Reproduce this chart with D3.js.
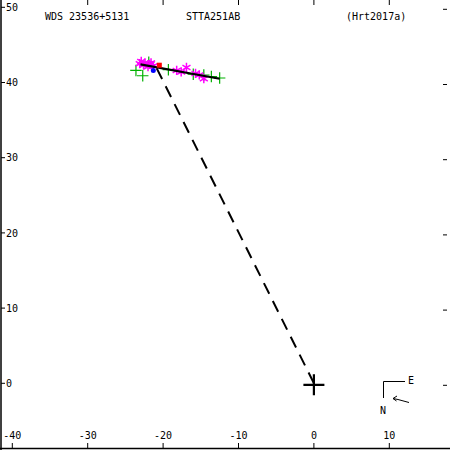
<!DOCTYPE html>
<html>
<head>
<meta charset="utf-8">
<script src="https://cdn.jsdelivr.net/npm/d3@7"></script>
<style>
  body { margin: 0; background: #fff; }
  text { font-family: "DejaVu Sans Mono", monospace; font-size: 10px; fill: #000; }
</style>
</head>
<body>
<div id="chart"></div>
<script>
// Chart size
const width = 450;
const height = 450;

// Tick values
const xTicks = [-40, -30, -20, -10, 0, 10];
const yTicks = [0, 10, 20, 30, 40, 50];

// Orbit arc and the line from the primary to the predicted position
const orbitX = [-23.0, -12.5];
const orbitY = [42.4, 40.5];
const dashX = [0, -21.1];
const dashY = [0, 42.4];

// Measurements (plus = green, asterisk = magenta)
const plusX = [-23.6, -22.7, -21.9, -19.3, -16.0, -14.6, -13.6, -12.5];
const plusY = [41.6, 40.9, 42.7, 41.7, 41.1, 41.0, 40.8, 40.6];
const starX = [-23.1, -22.9, -22.4, -21.8, -21.3, -22.6, -22.0, -21.6, -18.2, -16.9, -17.6, -15.7, -15.2, -14.6];
const starY = [42.5, 42.8, 42.6, 42.4, 42.2, 42.3, 42.1, 42.6, 41.6, 42.0, 41.4, 41.2, 41.0, 40.5];
const redX = [-20.5], redY = [42.3];
const blueX = [-21.3], blueY = [41.6];

// Scales
const x = d3.scaleLinear().domain([-40, 10]).range([12.3, 389.3]);
const y = d3.scaleLinear().domain([0, 50]).range([383.3, 7.3]);

const svg = d3.select("#chart").append("svg")
    .attr("width", width)
    .attr("height", height);

// Frame: left and bottom lines
svg.append("line").attr("x1", 1).attr("x2", 1).attr("y1", 0).attr("y2", height)
    .attr("stroke", "#000").attr("stroke-width", 1.5);
svg.append("line").attr("x1", 0).attr("x2", width).attr("y1", 448.5).attr("y2", 448.5)
    .attr("stroke", "#000").attr("stroke-width", 1.5);

// Bottom ticks and labels
svg.append("g").selectAll("line").data(xTicks).enter().append("line")
    .attr("x1", d => x(d)).attr("x2", d => x(d))
    .attr("y1", 443).attr("y2", 449)
    .attr("stroke", "#000");
svg.append("g").selectAll("text").data(xTicks).enter().append("text")
    .attr("x", d => x(d)).attr("y", 439)
    .attr("text-anchor", "middle")
    .text(d => d);

// Top ticks
svg.append("g").selectAll("line").data(xTicks.slice(1)).enter().append("line")
    .attr("x1", d => x(d)).attr("x2", d => x(d))
    .attr("y1", 0).attr("y2", 5)
    .attr("stroke", "#000");

// Left ticks and labels
svg.append("g").selectAll("line").data(yTicks).enter().append("line")
    .attr("x1", 1).attr("x2", 5)
    .attr("y1", d => y(d)).attr("y2", d => y(d))
    .attr("stroke", "#000");
svg.append("g").selectAll("text").data(yTicks).enter().append("text")
    .attr("x", 6).attr("y", d => y(d) + 3.6)
    .text(d => d);

// Right ticks
svg.append("g").selectAll("line").data(yTicks).enter().append("line")
    .attr("x1", 443).attr("x2", 447)
    .attr("y1", d => y(d) + 2).attr("y2", d => y(d) + 2)
    .attr("stroke", "#000");

// Header
svg.append("text").attr("x", 45).attr("y", 20).text("WDS 23536+5131");
svg.append("text").attr("x", 186).attr("y", 20).text("STTA251AB");
svg.append("text").attr("x", 346).attr("y", 20).text("(Hrt2017a)");

const line = d3.line().x(d => x(d[0])).y(d => y(d[1]));

// Measurements
const plus = d3.symbol().type(d3.symbolPlus).size(45);
svg.append("g").selectAll("path").data(d3.zip(plusX, plusY)).enter().append("path")
    .attr("d", plus)
    .attr("transform", d => `translate(${x(d[0])},${y(d[1])})`)
    .attr("fill", "none")
    .attr("stroke", "#00b000")
    .attr("stroke-width", 1.2);

const star = d3.symbol().type(d3.symbolAsterisk).size(60);
svg.append("g").selectAll("path").data(d3.zip(starX, starY)).enter().append("path")
    .attr("d", star)
    .attr("transform", d => `translate(${x(d[0])},${y(d[1])})`)
    .attr("fill", "none")
    .attr("stroke", "#ff00ff")
    .attr("stroke-width", 1.5);

// Orbit arc
svg.append("path")
    .attr("d", line(d3.zip(orbitX, orbitY)))
    .attr("fill", "none").attr("stroke", "#000").attr("stroke-width", 2.2);

// Latest measurement and prediction
svg.append("g").selectAll("rect").data(d3.zip(redX, redY)).enter().append("rect")
    .attr("x", d => x(d[0]) - 2.5).attr("y", d => y(d[1]) - 2.5)
    .attr("width", 5).attr("height", 5)
    .attr("fill", "#ff0000");
svg.append("g").selectAll("circle").data(d3.zip(blueX, blueY)).enter().append("circle")
    .attr("cx", d => x(d[0])).attr("cy", d => y(d[1]))
    .attr("r", 2.5)
    .attr("fill", "#0000ff");

// Dashed line from primary
svg.append("path")
    .attr("d", line(d3.zip(dashX, dashY)))
    .attr("fill", "none").attr("stroke", "#000").attr("stroke-width", 2)
    .attr("stroke-dasharray", "12,8");

// Primary cross
svg.append("path")
    .attr("d", `M${x(0) - 10.5},${y(0) + 1.5}H${x(0) + 10.5}M${x(0)},${y(0) - 9}V${y(0) + 12}`)
    .attr("fill", "none").attr("stroke", "#000").attr("stroke-width", 2.2);

// Orientation marker
svg.append("path")
    .attr("d", "M383.5,398V381.5H405")
    .attr("fill", "none").attr("stroke", "#000").attr("stroke-width", 1);
svg.append("text").attr("x", 408).attr("y", 384).text("E");
svg.append("text").attr("x", 380).attr("y", 414).text("N");
svg.append("path")
    .attr("d", "M409,402.5L398,399.5L393,398.5M393,398.5L397,396M393,398.5L396.5,401")
    .attr("fill", "none").attr("stroke", "#000").attr("stroke-width", 1);
</script>
</body>
</html>
